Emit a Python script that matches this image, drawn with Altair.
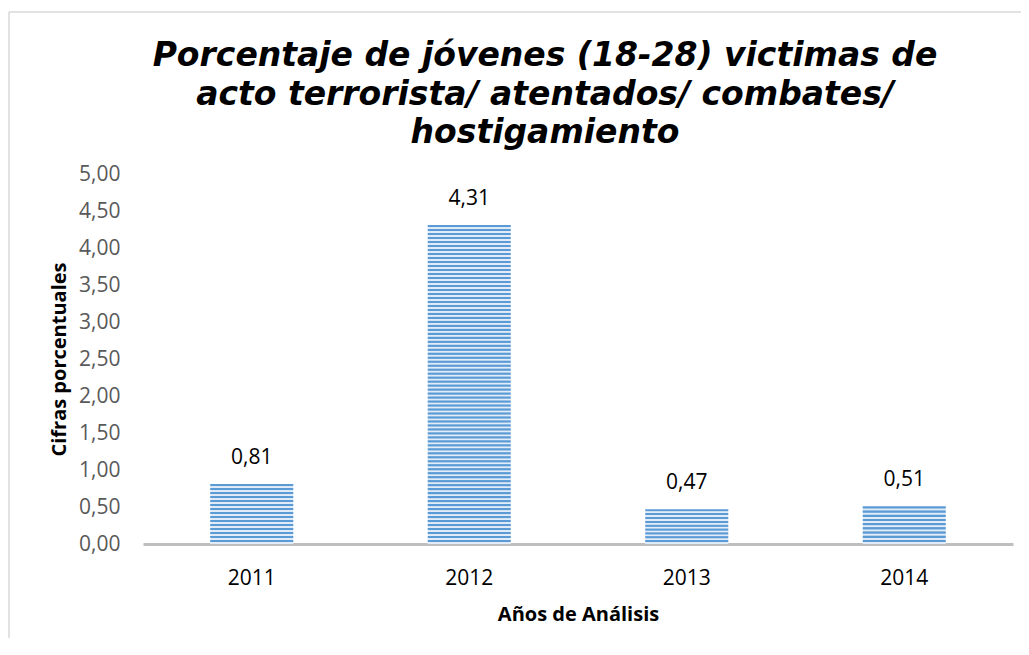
import altair as alt
import pandas as pd

# ---- data ----
years = ["2011", "2012", "2013", "2014"]
values = [0.81, 4.31, 0.47, 0.51]
labels = ["0,81", "4,31", "0,47", "0,51"]
y_ticks = [0.0, 0.5, 1.0, 1.5, 2.0, 2.5, 3.0, 3.5, 4.0, 4.5, 5.0]
title_lines = [
    "Porcentaje de jóvenes  (18-28) victimas de",
    "acto terrorista/ atentados/ combates/",
    "hostigamiento",
]
x_title = "Años de Análisis"
y_title = "Cifras  porcentuales"

# ---- layout / style ----
W, H = 870, 370
Y_MAX = 5.0
STRIPE = 4.0  # px period of the horizontal stripe pattern
BLUE = "#5b9bd5"
LIGHT = "#e2ecf8"
LABEL_FONT = "Open Sans"

df = pd.DataFrame({"year": years, "value": values, "label": labels})


def stripe_gradient(v):
    n = max(1, round(v * (H / Y_MAX) / STRIPE))
    stops = []
    for k in range(n):
        stops += [
            {"offset": (k + 0.08) / n, "color": BLUE},
            {"offset": (k + 0.45) / n, "color": BLUE},
            {"offset": (k + 0.62) / n, "color": LIGHT},
            {"offset": (k + 0.92) / n, "color": LIGHT},
        ]
    return alt.LinearGradient(gradient="linear", x1=0, y1=0, x2=0, y2=1, stops=stops)


X = alt.X(
    "year:N",
    scale=alt.Scale(domain=years, paddingInner=0.618, paddingOuter=0.309),
    axis=alt.Axis(
        labelAngle=0,
        ticks=False,
        tickSize=0,
        domainColor="#bfbfbf",
        domainWidth=3,
        labelColor="#000000",
        labelFont=LABEL_FONT,
        labelFontSize=21,
        labelPadding=23,
        titleFont=LABEL_FONT,
        titleFontSize=20,
        titleFontWeight="bold",
        titleColor="#000000",
        titlePadding=16,
    ),
    title=x_title,
)
Y = alt.Y(
    "value:Q",
    scale=alt.Scale(domain=[0, Y_MAX], nice=False),
    axis=alt.Axis(
        values=y_ticks,
        labelExpr="replace(format(datum.value, '.2f'), '.', ',')",
        domain=False,
        ticks=False,
        tickSize=0,
        grid=False,
        labelColor="#595959",
        labelFont=LABEL_FONT,
        labelFontSize=21,
        labelPadding=23,
        titleFont=LABEL_FONT,
        titleFontSize=20,
        titleFontWeight="bold",
        titleColor="#000000",
        titlePadding=9,
    ),
    title=y_title,
)

base = alt.Chart(df)
bar_layers = [
    base.transform_filter(alt.datum.year == yr).mark_bar(color=stripe_gradient(v)).encode(x=X, y=Y)
    for yr, v in zip(years, values)
]

text_layer = base.mark_text(
    baseline="middle", dy=-26, font=LABEL_FONT, fontSize=21, color="#000000"
).encode(x=X, y=Y, text="label:N")

frame_top = alt.Chart(alt.Data(values=[{"k": 0}])).mark_rule(
    color="#d9d9d9", strokeWidth=1.5
).encode(x=alt.value(-134), x2=alt.value(878), y=alt.value(-162))
frame_left = alt.Chart(alt.Data(values=[{"k": 0}])).mark_rule(
    color="#d9d9d9", strokeWidth=1.5
).encode(x=alt.value(-134), y=alt.value(-162), y2=alt.value(464))

chart = (
    alt.layer(frame_top, frame_left, *bar_layers, text_layer)
    .properties(
        width=W,
        height=H,
        background="white",
        autosize=alt.AutoSizeParams(type="none"),
        padding={"left": 135, "top": 166, "right": 8, "bottom": 94},
        title=alt.TitleParams(
            text=title_lines,
            font="DejaVu Sans",
            fontSize=33,
            fontStyle="italic",
            fontWeight="bold",
            color="#000000",
            lineHeight=38.5,
            anchor="middle",
            frame="group",
            dx=-33,
            baseline="bottom",
            offset=-172,
        ),
    )
    .configure_view(stroke="transparent", strokeWidth=0)
)

chart.save("out.html", embed_options={"renderer": "svg", "actions": False})
